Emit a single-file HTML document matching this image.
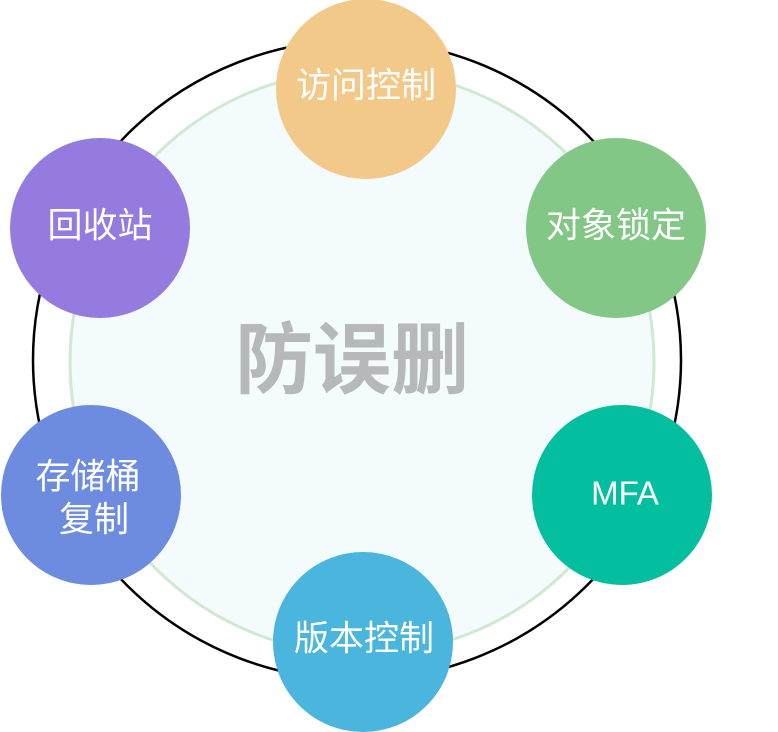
<!DOCTYPE html>
<html><head><meta charset="utf-8"><style>
html,body{margin:0;padding:0;background:#fff;}
svg{display:block;}
text{font-family:"Liberation Sans","Noto Sans CJK SC",sans-serif;fill:#fff;text-anchor:middle;dominant-baseline:central;}
</style></head><body>
<svg width="778" height="732" viewBox="0 0 778 732" xmlns="http://www.w3.org/2000/svg">
<ellipse cx="357" cy="360" rx="324" ry="320" fill="none" stroke="#000" stroke-width="2.5"/>
<circle cx="362" cy="362" r="292" fill="#f3fbfc" stroke="#cfe9d2" stroke-width="3"/>
<text x="352" y="360" style="font-size:78px;font-weight:bold;fill:#b6b8ba">防误删</text>
<circle cx="366" cy="89" r="90" fill="#f3c98a"/>
<text x="366" y="86" style="font-size:35px">访问控制</text>
<circle cx="616" cy="228" r="90" fill="#82c785"/>
<text x="616" y="226" style="font-size:35px">对象锁定</text>
<circle cx="622" cy="495" r="90" fill="#03bf9f"/>
<text x="625" y="493" style="font-size:33px">MFA</text>
<circle cx="363" cy="642" r="90" fill="#4ab5dd"/>
<text x="364" y="639" style="font-size:35px">版本控制</text>
<circle cx="91" cy="495" r="90" fill="#6d8ce0"/>
<text x="88" y="477" style="font-size:35px">存储桶</text>
<text x="94" y="520" style="font-size:35px">复制</text>
<circle cx="100" cy="228" r="90" fill="#957ae0"/>
<text x="100" y="226" style="font-size:35px">回收站</text>
</svg>
</body></html>
